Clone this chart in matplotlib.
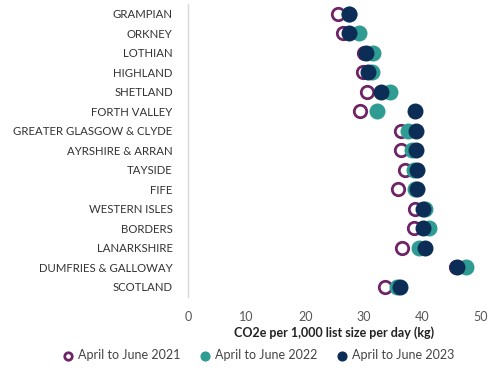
import numpy as np
import matplotlib.pyplot as plt

regions = ["GRAMPIAN", "ORKNEY", "LOTHIAN", "HIGHLAND", "SHETLAND", "FORTH VALLEY",
           "GREATER GLASGOW & CLYDE", "AYRSHIRE & ARRAN", "TAYSIDE", "FIFE",
           "WESTERN ISLES", "BORDERS", "LANARKSHIRE", "DUMFRIES & GALLOWAY", "SCOTLAND"]
q2021 = [25.6, 26.5, 30.0, 29.9, 30.6, 29.4, 36.3, 36.4, 37.1, 35.8, 38.7, 38.5, 36.6, 45.7, 33.7]
q2022 = [27.5, 29.2, 31.5, 31.4, 34.4, 32.3, 37.6, 38.2, 38.5, 38.7, 40.5, 41.1, 39.4, 47.4, 35.6]
q2023 = [27.5, 27.4, 30.3, 30.8, 32.9, 38.7, 38.9, 38.9, 39.1, 39.1, 40.1, 40.1, 40.4, 45.9, 36.1]
xticks = [0, 10, 20, 30, 40, 50]

purple = "#6E2466"
teal = "#2E9C92"
navy = "#0B2D56"

plt.rcParams['font.family'] = ['Lato', 'DejaVu Sans']

fig = plt.figure(figsize=(5, 3.76), dpi=100)
ax = fig.add_axes([0.376, 0.211, 0.586, 0.778])

y = np.arange(len(regions))
ax.scatter(q2021, y, s=80, facecolors="white", edgecolors=purple, linewidths=2.0,
           label="April to June 2021", zorder=3)
ax.scatter(q2022, y, s=110, color=teal, label="April to June 2022", zorder=4)
ax.scatter(q2023, y, s=110, color=navy, label="April to June 2023", zorder=5)

ax.set_ylim(len(regions) - 0.5, -0.5)
ax.set_xlim(0, 50)
ax.set_yticks(y)
ax.set_yticklabels(regions, fontsize=8.2, color="#333333")
ax.set_xticks(xticks)
ax.set_xticklabels([str(t) for t in xticks], fontsize=9, color="#555555")
ax.tick_params(axis="both", length=0)
ax.tick_params(axis="y", pad=11)
ax.tick_params(axis="x", pad=10)

for side in ["top", "right", "bottom"]:
    ax.spines[side].set_visible(False)
ax.spines["left"].set_color("#d9d9d9")
ax.spines["left"].set_linewidth(1.0)

ax.set_xlabel("CO2e per 1,000 list size per day (kg)", fontsize=9, fontweight="bold",
              color="#222222", labelpad=3)

fig.legend(loc="center", bbox_to_anchor=(0.51, 0.056), ncol=3, frameon=False,
           fontsize=9, handletextpad=-0.2, columnspacing=1.0, markerscale=0.6,
           labelcolor="#444444")

fig.savefig("out.png", dpi=100)
